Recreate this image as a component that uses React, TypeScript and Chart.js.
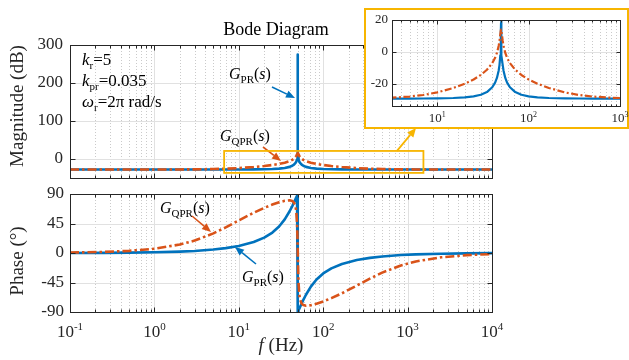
import React, { useEffect, useRef } from 'react';
import { Chart, registerables } from 'chart.js';

Chart.register(...registerables);

// ---------------- data ----------------
const FREQ_HZ = [
  0.1, 0.25, 0.5, 1, 2, 3, 5, 7, 10, 15, 20, 25, 30, 35, 40, 43, 45, 47, 48, 49, 49.5, 49.8, 49.9,
  50, 50,
  50.1, 50.2, 50.51, 51.02, 52.08, 53.19, 55.56, 58.14, 62.5, 71.43, 83.33, 100, 125, 166.7, 250,
  357.1, 500, 833.3, 1250, 2500, 5000, 10000,
];

const PR_MAG_DB = [
  -29.12, -29.12, -29.12, -29.12, -29.11, -29.11, -29.08, -29.05, -28.97, -28.75, -28.37, -27.76,
  -26.75, -25.04, -22.06, -19.11, -16.21, -11.72, -8.15, -2.06, 3.99, 11.98, 18.0,
  275, 275,
  18.0, 11.98, 3.99, -2.06, -8.15, -11.72, -16.21, -19.11, -22.06, -25.04, -26.75, -27.76, -28.37,
  -28.75, -28.97, -29.05, -29.08, -29.11, -29.11, -29.12, -29.12, -29.12,
];

const QPR_MAG_DB = [
  -29.12, -29.12, -29.11, -29.06, -28.89, -28.63, -27.85, -26.88, -25.25, -22.49, -19.82, -17.16,
  -14.34, -11.11, -6.99, -3.6, -0.56, 3.8, 6.91, 10.99, 13.06, 13.87, 13.96,
  14.04, 14.04,
  13.96, 13.87, 13.06, 10.99, 6.91, 3.8, -0.56, -3.6, -6.99, -11.11, -14.34, -17.16, -19.82, -22.49,
  -25.25, -26.88, -27.85, -28.63, -28.89, -29.06, -29.11, -29.12,
];

const PR_PHASE_DEG = [
  0.1, 0.26, 0.52, 1.04, 2.09, 3.13, 5.25, 7.4, 10.73, 16.69, 23.41, 31.23, 40.45, 51.3, 63.67,
  71.59, 76.93, 82.25, 84.87, 87.46, 88.73, 89.5, 89.75,
  90, -90,
  -89.75, -89.5, -88.73, -87.46, -84.87, -82.25, -76.93, -71.59, -63.67, -51.3, -40.45, -31.23,
  -23.41, -16.69, -10.73, -7.4, -5.25, -3.13, -2.09, -1.04, -0.52, -0.26,
];

const QPR_PHASE_DEG = [
  0.65, 1.64, 3.27, 6.52, 12.89, 18.97, 29.93, 39.08, 49.69, 61.45, 68.86, 73.86, 77.35, 79.64,
  80.45, 79.46, 77.17, 70.87, 63.09, 44.89, 26.48, 11.25, 5.7,
  0, 0,
  -5.7, -11.25, -26.48, -44.89, -63.09, -70.87, -77.17, -79.46, -80.45, -79.64, -77.35, -73.86,
  -68.86, -61.45, -49.69, -39.08, -29.93, -18.97, -12.89, -6.52, -3.27, -1.64,
];

// axes / ticks
const X_RANGE_HZ = [0.1, 10000];
const MAG_RANGE_DB = [-51.5, 300];
const PHASE_RANGE_DEG = [-90, 90];
const DECADES = [0.1, 1, 10, 100, 1000, 10000];
const MINOR_MULT = [2, 3, 4, 5, 6, 7, 8, 9];
const MAG_TICKS = [0, 100, 200, 300];
const PHASE_TICKS = [-90, -45, 0, 45, 90];

// inset
const INSET_X_RANGE_HZ = [3.2, 1000];
const INSET_Y_RANGE_DB = [-33.75, 20];
const INSET_DECADES = [1, 10, 100, 1000];
const INSET_LABEL_DECADES = [10, 100, 1000];
const INSET_Y_TICKS = [-20, 0, 20];

// zoom box on main magnitude plot (Hz, dB)
const ZOOM_BOX_HZ = [6.7, 1540];
const ZOOM_BOX_DB = [-38, 20];

// ---------------- style ----------------
const SERIF = '"Liberation Serif", "Times New Roman", Times, serif';
const BLUE = '#0072BD';
const ORANGE = '#D95319';
const YELLOW = '#F7B500';
const AXIS = '#262626';
const GRID_MAJOR = '#e1e1e1';
const GRID_MINOR = '#cacaca';
const DASH_DOT = [9, 3, 2.5, 3];

type Part = { t: string; it?: boolean; sub?: boolean; sup?: boolean };

function rich(
  ctx: CanvasRenderingContext2D,
  parts: Part[],
  x: number,
  y: number,
  size: number,
  color: string,
  align: 'left' | 'center' | 'right' = 'left',
  smallRatio = 0.66,
) {
  const small = Math.round(size * smallRatio);
  const font = (p: Part) => `${p.it ? 'italic ' : ''}${p.sub || p.sup ? small : size}px ${SERIF}`;
  ctx.save();
  ctx.textAlign = 'left';
  ctx.textBaseline = 'alphabetic';
  ctx.fillStyle = color;
  let w = 0;
  for (const p of parts) {
    ctx.font = font(p);
    w += ctx.measureText(p.t).width;
  }
  let cx = align === 'center' ? x - w / 2 : align === 'right' ? x - w : x;
  for (const p of parts) {
    ctx.font = font(p);
    const dy = p.sub ? size * 0.22 : p.sup ? -size * 0.42 : 0;
    ctx.fillText(p.t, cx, y + dy);
    cx += ctx.measureText(p.t).width;
  }
  ctx.restore();
}

function arrow(
  ctx: CanvasRenderingContext2D,
  x0: number,
  y0: number,
  x1: number,
  y1: number,
  color: string,
  lw = 1.6,
  head = 9,
  hw = 3.8,
) {
  const ang = Math.atan2(y1 - y0, x1 - x0);
  const bx = x1 - head * Math.cos(ang);
  const by = y1 - head * Math.sin(ang);
  ctx.save();
  ctx.strokeStyle = color;
  ctx.fillStyle = color;
  ctx.lineWidth = lw;
  ctx.beginPath();
  ctx.moveTo(x0, y0);
  ctx.lineTo(bx, by);
  ctx.stroke();
  ctx.beginPath();
  ctx.moveTo(x1, y1);
  ctx.lineTo(bx + hw * Math.sin(ang), by - hw * Math.cos(ang));
  ctx.lineTo(bx - hw * Math.sin(ang), by + hw * Math.cos(ang));
  ctx.closePath();
  ctx.fill();
  ctx.restore();
}

const crisp = (v: number) => Math.round(v) + 0.5;

type AxesCfg = {
  xMajor: number[];
  xMinor: number[];
  yTicks: number[];
  majorLen: number;
  minorLen: number;
  before?: (ctx: CanvasRenderingContext2D, chart: any) => void;
  after?: (ctx: CanvasRenderingContext2D, chart: any) => void;
};

function axesPlugin(id: string, cfg: AxesCfg) {
  return {
    id,
    beforeDraw(chart: any) {
      if (cfg.before) cfg.before(chart.ctx, chart);
    },
    beforeDatasetsDraw(chart: any) {
      const { ctx, chartArea: a } = chart;
      const x = chart.scales.x;
      const y = chart.scales.y;
      ctx.save();
      ctx.lineWidth = 1;
      ctx.strokeStyle = GRID_MINOR;
      ctx.setLineDash([1, 2]);
      ctx.beginPath();
      for (const f of cfg.xMinor) {
        const px = crisp(x.getPixelForValue(f));
        if (px <= a.left + 1 || px >= a.right - 1) continue;
        ctx.moveTo(px, a.top);
        ctx.lineTo(px, a.bottom);
      }
      ctx.stroke();
      ctx.setLineDash([]);
      ctx.strokeStyle = GRID_MAJOR;
      ctx.beginPath();
      for (const f of cfg.xMajor) {
        const px = crisp(x.getPixelForValue(f));
        if (px <= a.left + 1 || px >= a.right - 1) continue;
        ctx.moveTo(px, a.top);
        ctx.lineTo(px, a.bottom);
      }
      for (const v of cfg.yTicks) {
        const py = crisp(y.getPixelForValue(v));
        if (py <= a.top + 1 || py >= a.bottom - 1) continue;
        ctx.moveTo(a.left, py);
        ctx.lineTo(a.right, py);
      }
      ctx.stroke();
      ctx.restore();
    },
    afterDatasetsDraw(chart: any) {
      const { ctx, chartArea: a } = chart;
      const x = chart.scales.x;
      const y = chart.scales.y;
      const L = crisp(a.left);
      const R = crisp(a.right);
      const T = crisp(a.top);
      const B = crisp(a.bottom);
      ctx.save();
      ctx.strokeStyle = AXIS;
      ctx.lineWidth = 1;
      ctx.beginPath();
      const tickX = (f: number, len: number) => {
        const px = crisp(x.getPixelForValue(f));
        if (px < L || px > R) return;
        ctx.moveTo(px, B);
        ctx.lineTo(px, B - len);
        ctx.moveTo(px, T);
        ctx.lineTo(px, T + len);
      };
      cfg.xMajor.forEach((f) => tickX(f, cfg.majorLen));
      cfg.xMinor.forEach((f) => tickX(f, cfg.minorLen));
      for (const v of cfg.yTicks) {
        const py = crisp(y.getPixelForValue(v));
        ctx.moveTo(L, py);
        ctx.lineTo(L + cfg.majorLen, py);
        ctx.moveTo(R, py);
        ctx.lineTo(R - cfg.majorLen, py);
      }
      ctx.stroke();
      ctx.strokeRect(L, T, R - L, B - T);
      ctx.restore();
    },
    afterDraw(chart: any) {
      if (cfg.after) cfg.after(chart.ctx, chart);
    },
  };
}

function series(ys: number[], color: string, dash: number[], width: number, order: number) {
  return {
    data: FREQ_HZ.map((f, i) => ({ x: f, y: ys[i] })),
    borderColor: color,
    backgroundColor: color,
    borderWidth: width,
    borderDash: dash,
    borderJoinStyle: 'round' as const,
    pointRadius: 0,
    pointHoverRadius: 0,
    tension: 0,
    fill: false,
    clip: 0,
    order,
  };
}

function makeChart(
  canvas: HTMLCanvasElement,
  datasets: any[],
  xr: number[],
  yr: number[],
  padding: { left: number; right: number; top: number; bottom: number },
  plugin: any,
) {
  return new Chart(canvas, {
    type: 'line',
    data: { datasets },
    options: {
      animation: false,
      responsive: false,
      devicePixelRatio: 1,
      events: [],
      layout: { padding },
      plugins: { legend: { display: false }, tooltip: { enabled: false }, title: { display: false } },
      scales: {
        x: { type: 'logarithmic', min: xr[0], max: xr[1], display: false },
        y: { type: 'linear', min: yr[0], max: yr[1], display: false },
      },
    } as any,
    plugins: [plugin],
  });
}

const minorsOf = (decs: number[]) => decs.slice(0, -1).flatMap((d) => MINOR_MULT.map((m) => m * d));

function yTickLabels(ctx: CanvasRenderingContext2D, chart: any, ticks: number[], size: number, gap: number) {
  const y = chart.scales.y;
  ctx.save();
  ctx.font = `${size}px ${SERIF}`;
  ctx.fillStyle = AXIS;
  ctx.textAlign = 'right';
  ctx.textBaseline = 'middle';
  for (const v of ticks) ctx.fillText(String(v), chart.chartArea.left - gap, y.getPixelForValue(v));
  ctx.restore();
}

function decadeLabels(ctx: CanvasRenderingContext2D, chart: any, decs: number[], size: number, baseline: number) {
  const x = chart.scales.x;
  for (const d of decs) {
    const e = Math.round(Math.log10(d));
    rich(ctx, [{ t: '10' }, { t: String(e), sup: true }], x.getPixelForValue(d), baseline, size, AXIS, 'center', 0.64);
  }
}

function yLabel(ctx: CanvasRenderingContext2D, text: string, cx: number, cy: number, size: number) {
  ctx.save();
  ctx.translate(cx, cy);
  ctx.rotate(-Math.PI / 2);
  ctx.font = `${size}px ${SERIF}`;
  ctx.fillStyle = AXIS;
  ctx.textAlign = 'center';
  ctx.textBaseline = 'middle';
  ctx.fillText(text, 0, 0);
  ctx.restore();
}

const G_PR: Part[] = [{ t: 'G', it: true }, { t: 'PR', sub: true }, { t: '(' }, { t: 's', it: true }, { t: ')' }];
const G_QPR: Part[] = [{ t: 'G', it: true }, { t: 'QPR', sub: true }, { t: '(' }, { t: 's', it: true }, { t: ')' }];

function buildMagnitude(canvas: HTMLCanvasElement) {
  const plugin = axesPlugin('magAxes', {
    xMajor: DECADES,
    xMinor: minorsOf(DECADES),
    yTicks: MAG_TICKS,
    majorLen: 5,
    minorLen: 3,
    after: (ctx, chart) => {
      const x = chart.scales.x;
      const y = chart.scales.y;
      rich(ctx, [{ t: 'Bode Diagram' }], 276, 35, 18, '#000', 'center');
      yLabel(ctx, 'Magnitude (dB)', 18, 106, 19);
      yTickLabels(ctx, chart, MAG_TICKS, 17, 7);
      // parameter text
      rich(ctx, [{ t: 'k', it: true }, { t: 'r', sub: true }, { t: '=5' }], 82, 65, 17, '#000');
      rich(ctx, [{ t: 'k', it: true }, { t: 'pr', sub: true }, { t: '=0.035' }], 82, 86, 17, '#000');
      rich(ctx, [{ t: 'ω', it: true }, { t: 'r', sub: true }, { t: '=2π rad/s' }], 82, 107, 17, '#000');
      // series labels
      rich(ctx, G_PR, 229, 79, 16, '#000');
      arrow(ctx, 272, 87, 295, 98, BLUE);
      rich(ctx, G_QPR, 220, 141, 16, '#000');
      arrow(ctx, 263, 147, 281, 161, ORANGE);
      // zoom box
      const bx0 = x.getPixelForValue(ZOOM_BOX_HZ[0]);
      const bx1 = x.getPixelForValue(ZOOM_BOX_HZ[1]);
      const by0 = y.getPixelForValue(ZOOM_BOX_DB[1]);
      const by1 = y.getPixelForValue(ZOOM_BOX_DB[0]);
      ctx.save();
      ctx.strokeStyle = YELLOW;
      ctx.lineWidth = 1.8;
      ctx.strokeRect(bx0, by0, bx1 - bx0, by1 - by0);
      ctx.restore();
      arrow(ctx, 397, by0, 416, 128, YELLOW, 1.8, 9, 4);
    },
  });
  return makeChart(
    canvas,
    [series(PR_MAG_DB, BLUE, [], 2.6, 2), series(QPR_MAG_DB, ORANGE, DASH_DOT, 2.6, 1)],
    X_RANGE_HZ,
    MAG_RANGE_DB,
    { left: 70, right: 137, top: 45, bottom: 182 },
    plugin,
  );
}

function buildPhase(canvas: HTMLCanvasElement) {
  const plugin = axesPlugin('phaseAxes', {
    xMajor: DECADES,
    xMinor: minorsOf(DECADES),
    yTicks: PHASE_TICKS,
    majorLen: 5,
    minorLen: 3,
    after: (ctx, chart) => {
      yLabel(ctx, 'Phase (°)', 18, 261, 19);
      yTickLabels(ctx, chart, PHASE_TICKS, 17, 6);
      decadeLabels(ctx, chart, DECADES, 17, 337);
      rich(ctx, [{ t: 'f', it: true }, { t: ' (Hz)' }], 281, 351, 19, AXIS, 'center');
      rich(ctx, G_QPR, 160, 213, 16, '#000');
      arrow(ctx, 192, 216, 211, 232, ORANGE);
      rich(ctx, G_PR, 242, 282, 16, '#000');
      arrow(ctx, 256, 264, 235, 247, BLUE);
    },
  });
  return makeChart(
    canvas,
    [series(PR_PHASE_DEG, BLUE, [], 2.6, 2), series(QPR_PHASE_DEG, ORANGE, DASH_DOT, 2.6, 1)],
    X_RANGE_HZ,
    PHASE_RANGE_DEG,
    { left: 70, right: 137, top: 194, bottom: 48 },
    plugin,
  );
}

function buildInset(canvas: HTMLCanvasElement) {
  const plugin = axesPlugin('insetAxes', {
    xMajor: INSET_LABEL_DECADES,
    xMinor: minorsOf(INSET_DECADES),
    yTicks: INSET_Y_TICKS,
    majorLen: 4,
    minorLen: 2,
    before: (ctx) => {
      ctx.save();
      ctx.fillStyle = '#ffffff';
      ctx.fillRect(365, 9, 263, 119);
      ctx.strokeStyle = YELLOW;
      ctx.lineWidth = 2;
      ctx.strokeRect(365, 9, 263, 119);
      ctx.restore();
    },
    after: (ctx, chart) => {
      yTickLabels(ctx, chart, INSET_Y_TICKS, 13, 4);
      decadeLabels(ctx, chart, INSET_LABEL_DECADES, 13, 122);
    },
  });
  return makeChart(
    canvas,
    [series(PR_MAG_DB, BLUE, [], 2.2, 2), series(QPR_MAG_DB, ORANGE, [7, 2.5, 2, 2.5], 2.2, 1)],
    INSET_X_RANGE_HZ,
    INSET_Y_RANGE_DB,
    { left: 392, right: 9, top: 20, bottom: 254 },
    plugin,
  );
}

export default function App() {
  const magRef = useRef<HTMLCanvasElement>(null);
  const phRef = useRef<HTMLCanvasElement>(null);
  const insRef = useRef<HTMLCanvasElement>(null);

  useEffect(() => {
    const charts = [
      buildMagnitude(magRef.current as HTMLCanvasElement),
      buildPhase(phRef.current as HTMLCanvasElement),
      buildInset(insRef.current as HTMLCanvasElement),
    ];
    return () => charts.forEach((c) => c.destroy());
  }, []);

  const cs: React.CSSProperties = { position: 'absolute', left: 0, top: 0, width: 629, height: 360 };
  return (
    <div style={{ position: 'fixed', left: 0, top: 0, width: 629, height: 360, background: '#fff', overflow: 'hidden' }}>
      <canvas ref={magRef} width={629} height={360} style={cs} />
      <canvas ref={phRef} width={629} height={360} style={cs} />
      <canvas ref={insRef} width={629} height={360} style={cs} />
    </div>
  );
}
